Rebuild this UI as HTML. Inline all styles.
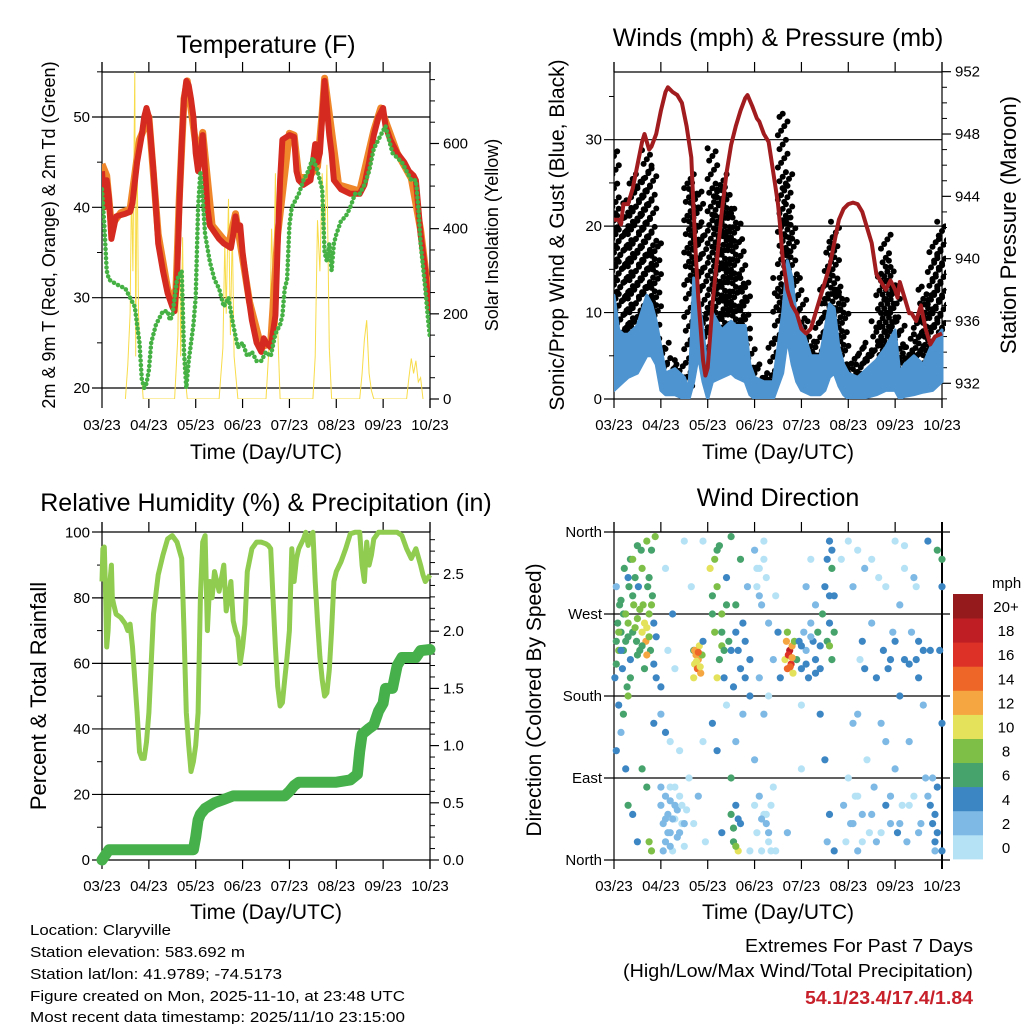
<!DOCTYPE html>
<html><head><meta charset="utf-8"><style>
html,body{margin:0;padding:0;background:#fff;}
svg{display:block;font-family:"Liberation Sans",sans-serif;}
</style></head><body>
<svg id="chart" width="1024" height="1024" viewBox="0 0 1024 1024" xmlns="http://www.w3.org/2000/svg">
<rect width="1024" height="1024" fill="#fff"/>
<text x="266" y="53" font-size="25" text-anchor="middle">Temperature (F)</text>
<text x="778" y="46" font-size="25" text-anchor="middle">Winds (mph) &amp; Pressure (mb)</text>
<text x="266" y="511" font-size="25" text-anchor="middle">Relative Humidity (%) &amp; Precipitation (in)</text>
<text x="778" y="506" font-size="25" text-anchor="middle">Wind Direction</text>
<text x="266" y="459" font-size="21" text-anchor="middle">Time (Day/UTC)</text>
<text x="778" y="459" font-size="21" text-anchor="middle">Time (Day/UTC)</text>
<text x="266" y="919" font-size="21" text-anchor="middle">Time (Day/UTC)</text>
<text x="778" y="919" font-size="21" text-anchor="middle">Time (Day/UTC)</text>
<text transform="translate(55,235) rotate(-90)" font-size="18" text-anchor="middle">2m &amp; 9m T (Red, Orange) &amp; 2m Td (Green)</text>
<text transform="translate(498,235) rotate(-90)" font-size="18" text-anchor="middle">Solar Insolation (Yellow)</text>
<text transform="translate(564,235) rotate(-90)" font-size="21" text-anchor="middle">Sonic/Prop Wind &amp; Gust (Blue, Black)</text>
<text transform="translate(1016,225) rotate(-90)" font-size="22" text-anchor="middle">Station Pressure (Maroon)</text>
<text transform="translate(46,696) rotate(-90)" font-size="22" text-anchor="middle">Percent &amp; Total Rainfall</text>
<text transform="translate(541,700) rotate(-90)" font-size="21" text-anchor="middle">Direction (Colored By Speed)</text>
<g font-size="15">
<text x="30" y="935" textLength="141" lengthAdjust="spacingAndGlyphs">Location: Claryville</text>
<text x="30" y="957" textLength="215" lengthAdjust="spacingAndGlyphs">Station elevation: 583.692 m</text>
<text x="30" y="979" textLength="252" lengthAdjust="spacingAndGlyphs">Station lat/lon: 41.9789; -74.5173</text>
<text x="30" y="1001" textLength="375" lengthAdjust="spacingAndGlyphs">Figure created on Mon, 2025-11-10, at 23:48 UTC</text>
<text x="30" y="1022" textLength="375" lengthAdjust="spacingAndGlyphs">Most recent data timestamp: 2025/11/10 23:15:00</text>
</g>
<text x="973" y="952" font-size="18" text-anchor="end" textLength="228" lengthAdjust="spacingAndGlyphs">Extremes For Past 7 Days</text>
<text x="973" y="977" font-size="18" text-anchor="end" textLength="350" lengthAdjust="spacingAndGlyphs">(High/Low/Max Wind/Total Precipitation)</text>
<text x="973" y="1004" font-size="18" font-weight="bold" fill="#c8202a" text-anchor="end" textLength="168" lengthAdjust="spacingAndGlyphs">54.1/23.4/17.4/1.84</text>
</svg>
<script>
const xTickLabels = ["03/23","04/23","05/23","06/23","07/23","08/23","09/23","10/23"];
const tempT = [0,0.05,0.1,0.15,0.2,0.3,0.5,0.6,0.65,0.75,0.85,0.9,0.95,1.0,1.05,1.1,1.15,1.2,1.3,1.4,1.5,1.55,1.6,1.65,1.7,1.75,1.8,1.85,1.9,1.95,2.0,2.05,2.1,2.15,2.2,2.25,2.3,2.5,2.6,2.75,2.8,2.85,2.9,2.95,3.0,3.1,3.2,3.3,3.4,3.45,3.5,3.6,3.7,3.75,3.8,3.85,4.0,4.1,4.15,4.2,4.3,4.45,4.5,4.55,4.6,4.65,4.7,4.75,4.8,4.85,4.9,4.95,5.1,5.3,5.5,5.6,5.7,5.8,5.9,5.95,6.0,6.05,6.15,6.3,6.45,6.55,6.65,6.7,6.75,6.8,6.9,6.95,7.0];
const tempV = [44,40,43,41,36.5,39,39.3,39.5,40.5,45,48,50,51,50,47,44,40,36,33,30.5,29,28.5,32,40,47,52,54,53.5,52,50,46,44,46,48,44,40,38,36.5,36,35.5,37,39,37.5,38,35,31,27.5,25,24,25.5,25,24.5,28,36,43,47.5,48,47.8,44,43,42.5,43,45,47,45,46,50,54,51,48,46,43,42,41.5,41.5,42.5,45,48,50,50.5,51,49,47.5,46,45,44,43.5,43,40,37,33,30,28.5];
const orangeT = [0,0.1,0.2,0.4,0.6,0.8,1.0,1.2,1.4,1.5,1.58,1.65,1.75,1.82,2.05,2.15,2.35,2.7,2.85,3.15,3.4,3.6,3.75,4.0,4.1,4.2,4.4,4.6,4.7,4.75,5.05,5.5,5.8,5.95,6.3,6.6,6.8,7.0];
const orangeV = [44.8,43.5,38,39.4,39.8,47.5,50,37,31,29.5,31,41,52,54,45,48.3,38,35.8,39.3,29.5,24.5,25,37,48.2,48,43.3,43.3,44.5,50.5,54.3,42.5,41.8,48.5,51,46,43.2,37.5,29];
const dewT = [0,0.05,0.1,0.15,0.3,0.5,0.6,0.7,0.75,0.8,0.85,0.9,0.95,1.0,1.05,1.15,1.3,1.4,1.45,1.5,1.6,1.7,1.75,1.8,1.85,1.95,2.0,2.05,2.1,2.15,2.2,2.3,2.4,2.5,2.6,2.7,2.8,2.9,3.0,3.1,3.2,3.3,3.4,3.5,3.6,3.7,3.8,3.85,3.9,3.95,4.0,4.05,4.2,4.3,4.4,4.5,4.6,4.7,4.75,4.8,4.85,4.9,4.95,5.0,5.1,5.2,5.3,5.4,5.5,5.6,5.7,5.8,5.9,6.0,6.05,6.1,6.2,6.3,6.4,6.5,6.6,6.7,6.75,6.8,6.9,6.95,7.0];
const dewV = [42,38,33,32,31.5,31,30,29,27,25,21,20,20.5,22,25,27,28.5,28.5,27.5,28,32,33,24,20,23,27,30,40,44,41,37,34,32,31,29,30,27,24.5,25,23.5,24,23,23,24,23.5,26,27,28,31,32,38,40,41.5,43,44,45.5,44,42,35,34,36,33,36,37,38.5,39,40,41.5,41.5,42.5,44,46.5,47.5,48.5,49,48,46,45.5,45,44,43,43,40,36,31,28,25.5];
const solarT = [0.5,0.55,0.6,0.63,0.66,0.7,0.72,0.75,0.78,0.82,0.88,1.55,1.62,1.65,1.68,1.72,1.75,1.82,2.5,2.58,2.62,2.65,2.7,2.74,2.78,2.82,2.9,3.5,3.58,3.62,3.66,3.7,3.74,3.8,4.5,4.55,4.6,4.65,4.7,4.75,4.8,4.85,4.9,5.5,5.55,5.6,5.65,5.7,5.75,5.8,6.5,6.55,6.6,6.65,6.7,6.75,6.8,6.85];
const solarV = [0,80,200,500,300,780,100,600,200,100,0,0,150,450,100,380,80,0,0,120,370,200,470,150,400,100,0,0,150,400,250,530,200,0,0,100,420,300,530,380,550,120,0,0,60,140,185,60,20,0,0,50,95,60,90,40,50,0];
const presT = [0,0.1,0.15,0.2,0.3,0.4,0.5,0.6,0.65,0.7,0.75,0.8,0.9,1.0,1.1,1.15,1.25,1.35,1.45,1.55,1.65,1.7,1.75,1.8,1.85,1.9,1.95,2.0,2.05,2.1,2.2,2.3,2.4,2.5,2.6,2.7,2.8,2.85,2.95,3.05,3.1,3.2,3.3,3.35,3.45,3.5,3.55,3.6,3.7,3.8,3.9,4.0,4.1,4.2,4.3,4.4,4.5,4.6,4.7,4.8,4.9,5.0,5.1,5.2,5.3,5.4,5.5,5.6,5.7,5.8,5.9,6.0,6.05,6.1,6.2,6.3,6.35,6.45,6.55,6.65,6.75,6.85,7.0];
const presV = [942.5,942.5,942.2,943.5,943.5,944.5,946,947.5,948,947.5,947,947.2,948,949.5,950.7,951,950.7,950.5,950,948.5,946.5,943,940,937.5,935.5,933.5,932.5,933,935,937,940,943,945.5,947.3,948.5,949.5,950.3,950.5,949.8,949,948.8,948,947.5,946.5,944.5,943.5,942,940,938,937,936.5,935.5,935.2,935.5,936.5,937.5,938.5,939.5,941,942.5,943.2,943.5,943.6,943.5,943,942,941,939,938.5,938,938.6,938,937.5,938.5,937.5,936.5,936.5,936,937,935.5,934.5,935,935.2];
const sonicT = [0,0.1,0.2,0.3,0.5,0.7,0.8,0.9,1.0,1.1,1.3,1.5,1.6,1.7,1.8,1.9,2.0,2.1,2.3,2.5,2.6,2.8,2.9,3.0,3.2,3.4,3.5,3.6,3.7,3.8,3.9,4.0,4.2,4.4,4.5,4.6,4.7,4.8,4.9,5.0,5.2,5.4,5.6,5.8,5.9,6.0,6.1,6.2,6.4,6.6,6.8,7.0];
const sonicHi = [12,8,7.5,7.5,8.5,12,11,9,6,3,3.5,2.5,1,14,12,8,3,10,8,9,8.5,8.5,4,2.5,2,2,6,10,16,14,9,8.5,5,5,8,11,10.5,6,4,3,2.5,3.5,4.5,6,7,8,3,4,5,4,6.5,8];
const sonicLo = [1,1.5,2,2.5,3,5,5,4,1,0.5,0.5,0,0,2,5,2,0,2,2.5,3,2.5,2,0.5,0,0,0,1.5,3,7,4,2,1,0.5,0.5,1,2.5,3,1.5,0.5,0,0,0.2,0.5,1,1,1,0,0.3,0.5,0.8,1,2];
const gustV = [29,22,20,23,26,24,25.5,28.8,27,18,7,6.5,4,4,4.5,2.5,26,25,24,20,10,29,24,26,24.5,22,21,18.5,14,7,4,3.5,3,2.5,7,14,33,26,21,14,12,9,7,6,10,13,18,20.5,13,12,3,5,4,6.5,6,5.5,9,14.5,19,16,13,9,6,6,7.5,10,13,12,17,18.5,20.5];
const rhT = [0,0.02,0.05,0.08,0.1,0.13,0.17,0.2,0.22,0.25,0.3,0.4,0.5,0.55,0.6,0.65,0.7,0.75,0.8,0.85,0.9,0.95,1.0,1.05,1.1,1.2,1.3,1.4,1.5,1.6,1.7,1.75,1.8,1.85,1.9,1.95,2.0,2.05,2.1,2.15,2.2,2.25,2.3,2.35,2.4,2.5,2.6,2.65,2.7,2.75,2.8,2.85,2.9,2.95,3.0,3.05,3.1,3.2,3.3,3.4,3.5,3.55,3.6,3.65,3.7,3.75,3.8,3.85,3.9,3.95,4.0,4.05,4.1,4.15,4.2,4.3,4.35,4.4,4.45,4.5,4.55,4.6,4.65,4.7,4.75,4.8,4.85,4.9,4.95,5.0,5.1,5.2,5.3,5.4,5.5,5.55,5.6,5.65,5.7,5.75,5.8,5.9,6.0,6.2,6.3,6.4,6.5,6.6,6.7,6.8,6.85,6.9,7.0];
const rhV = [85,95,95.5,80,65,70,85,90,80,78,75,74,72,70,72,65,55,45,33,31,31,36,45,60,75,87,93,98,99,97,92,70,45,35,27,30,35,45,80,97,99,70,85,80,88,82,90,76,80,85,73,70,68,60,65,72,88,95,97,97,96.5,96,95,80,65,53,47,48,55,62,70,95,85,92,95,98,100,96,99,100,85,73,62,55,50,51,58,70,85,88,91,95,99.5,100,100,90,85,97,90,93,98,100,100,100,100,99,95,92,95,90,87,85,87];
const rainT = [0,0.05,0.15,1.95,2.0,2.05,2.1,2.2,2.4,2.6,2.8,3.9,4.0,4.1,4.2,5.0,5.3,5.45,5.5,5.55,5.7,5.8,5.9,6.0,6.05,6.2,6.3,6.4,6.7,6.8,7.0];
const rainV = [0,0.03,0.09,0.09,0.2,0.35,0.4,0.45,0.5,0.53,0.56,0.56,0.6,0.65,0.68,0.68,0.7,0.75,0.95,1.1,1.15,1.18,1.3,1.37,1.5,1.5,1.7,1.77,1.77,1.83,1.84];
const dirT = [0.02,0.05,0.05,0.08,0.1,0.12,0.15,0.18,0.2,0.22,0.25,0.28,0.3,0.32,0.35,0.35,0.4,0.42,0.45,0.48,0.5,0.52,0.55,0.58,0.6,0.62,0.65,0.68,0.7,0.72,0.75,0.78,0.8,0.82,0.85,0.88,0.9,0.05,0.1,0.15,0.25,0.3,0.4,0.5,0.6,0.7,0.75,0.8,0.85,0.3,0.2,
1.0,1.05,1.1,1.1,1.15,1.2,1.2,1.25,1.3,1.3,1.35,1.4,1.45,1.5,1.55,1.0,1.1,1.2,1.3,1.4,1.1,1.25,1.5,1.0,1.15,
1.7,1.72,1.75,1.78,1.8,1.82,1.85,1.88,1.9,1.7,1.6,1.7,1.8,1.9,1.95,1.65,1.9,
2.05,2.1,2.15,2.2,2.25,2.3,2.35,2.4,2.45,2.5,2.55,2.6,2.65,2.7,2.75,2.8,2.85,2.9,2.2,2.3,2.1,2.2,2.3,2.5,2.55,2.6,2.65,2.7,2.5,2.75,2.4,2.9,2.9,2.6,
3.0,3.05,3.1,3.15,3.2,3.25,3.3,3.0,3.05,3.1,3.15,3.2,3.25,3.3,3.35,3.4,3.45,3.1,3.2,3.3,3.0,3.4,3.45,3.5,3.55,
3.65,3.68,3.7,3.73,3.75,3.78,3.8,3.82,3.85,3.7,3.9,3.95,4.0,4.05,4.1,4.15,4.2,4.25,4.3,4.35,4.4,4.45,4.5,4.55,4.6,4.65,4.7,4.55,4.6,4.65,4.1,4.2,4.3,4.0,4.4,4.5,4.55,4.6,4.7,3.7,4.0,
4.85,4.9,4.95,5.0,5.0,5.05,5.1,5.1,5.15,5.2,5.2,5.25,5.3,5.35,5.4,5.45,5.5,5.55,5.6,5.6,5.65,5.7,5.75,5.8,5.85,5.9,5.95,6.0,6.0,6.05,6.1,6.1,6.15,6.2,6.2,6.25,6.3,6.35,6.4,6.45,6.5,6.55,6.6,6.65,6.7,6.75,6.8,6.85,6.9,6.9,6.95,7.0,7.0,6.85,5.3,5.35,5.9,6.3,6.5,5.2,5.8,6.6,
0.05,0.1,0.15,0.2,0.25,0.3,0.35,0.4,0.45,0.5,0.55,0.6,0.65,0.7,0.75,0.8,0.85,0.4,0.5,0.6,0.7,0.75,0.3,0.15,0.9,
1.05,1.1,1.15,1.2,1.25,1.3,1.35,1.4,1.45,1.5,1.0,1.2,1.72,1.76,1.8,1.84,
2.1,2.2,2.3,2.4,2.5,2.6,2.7,2.8,2.15,2.25,2.35,2.55,2.6,2.65,3.05,3.1,3.2,3.25,3.3,3.35,3.15,
3.72,3.76,3.8,4.0,4.1,4.2,4.3,4.4,4.6,4.65,4.7,4.6,
5.1,5.2,5.3,5.5,5.7,5.9,6.1,6.3,6.5,6.7,6.8,6.85,6.9,5.5,5.8,6.2,6.4,6.0,6.45,6.75,7.0,7.0];
const dirDeg = [200,240,300,260,230,280,250,210,270,320,240,190,260,300,330,220,250,280,310,240,265,300,230,340,250,280,210,240,255,300,270,230,340,290,260,355,200,120,170,140,100,60,50,20,100,80,20,10,150,180,160,
60,40,70,20,50,80,30,10,60,45,25,70,40,15,55,160,140,130,210,120,320,270,350,190,230,
230,215,225,210,220,235,205,225,240,200,90,40,70,130,20,300,350,
320,290,250,340,220,270,200,310,240,355,190,280,230,330,260,200,300,220,200,235,150,120,30,50,20,60,10,40,90,160,170,10,180,130,
340,300,320,280,350,310,260,60,30,70,10,50,40,20,60,80,10,200,160,180,110,220,290,250,200,
220,240,210,225,230,215,235,205,240,250,220,240,210,250,230,200,260,240,220,250,210,270,300,330,350,320,290,240,260,220,300,330,280,170,160,110,20,50,10,30,100,
330,60,20,350,90,40,300,150,70,340,10,220,50,320,110,30,260,80,200,20,310,150,230,60,210,40,250,350,100,30,280,180,60,320,220,20,130,250,70,300,200,40,230,90,350,60,40,20,340,80,230,300,150,10,240,210,220,215,240,160,130,170,
215,250,285,230,270,245,200,290,255,225,275,235,260,225,245,280,215,330,345,320,350,310,310,230,245,
10,45,30,65,45,80,55,30,60,40,80,15,230,218,228,212,
270,300,250,280,230,250,210,240,330,345,230,35,15,45,320,290,330,50,30,10,45,
225,212,222,235,215,245,205,235,290,340,250,235,
40,70,20,50,30,70,40,60,30,70,90,50,30,330,300,345,310,240,220,230,330,10];
const dirSpd = [4,6,2,6,8,6,6,4,6,6,6,6,8,6,6,4,6,8,6,6,8,4,6,6,10,8,6,12,10,6,8,6,6,6,4,8,4,4,4,2,4,6,4,4,6,6,8,8,4,8,6,
2,2,2,2,2,0,2,0,2,0,2,0,0,0,0,2,4,0,0,0,0,4,0,4,0,
6,10,12,14,12,10,12,8,4,10,0,0,2,0,0,0,0,
10,6,8,6,6,8,4,4,6,6,4,6,4,6,4,4,2,4,10,8,4,4,4,6,6,4,10,4,6,2,0,0,4,2,
2,0,0,2,0,0,2,0,0,2,0,0,2,0,0,0,0,2,2,0,2,2,0,4,4,
10,12,14,16,18,16,12,10,8,8,6,4,4,2,2,4,2,4,4,6,4,6,4,4,4,6,4,6,4,6,2,0,2,0,4,4,2,4,4,2,0,
0,2,0,0,0,2,2,2,0,0,2,0,2,2,0,0,2,2,4,2,0,2,4,4,4,2,2,0,2,4,2,4,0,0,4,2,2,2,0,0,4,2,4,2,4,4,4,4,6,4,4,4,4,2,4,4,4,4,4,2,2,2,
6,8,6,6,8,6,6,6,8,6,8,6,10,12,8,8,4,8,6,8,8,6,4,4,4,
2,2,2,2,2,0,2,2,0,2,2,2,12,10,14,10,
6,8,6,6,4,4,4,4,8,6,6,6,8,4,0,2,0,0,2,0,2,
16,14,12,4,4,2,4,4,4,4,6,8,
2,0,0,2,0,2,2,0,2,2,2,4,4,0,0,0,2,4,4,4,6,4];
const speedBins = ["0","2","4","6","8","10","12","14","16","18","20+"];
const speedColors = ["#b6e2f6","#7db9e4","#3d86c4","#46a36b","#7dbf47","#e4e25a","#f6a640","#ef6728","#dd3127","#bf1e24","#951a1c"];

const NS = "http://www.w3.org/2000/svg";
const svg = document.getElementById('chart');
function el(tag, attrs, parent) {
  const e = document.createElementNS(NS, tag);
  for (const k in attrs) e.setAttribute(k, attrs[k]);
  (parent || svg).appendChild(e);
  return e;
}
function interp(ts, vs, t) {
  if (t <= ts[0]) return vs[0];
  for (let i = 1; i < ts.length; i++) if (t <= ts[i]) { const f = (t - ts[i-1]) / (ts[i] - ts[i-1]); return vs[i-1] + f * (vs[i] - vs[i-1]); }
  return vs[vs.length - 1];
}
function makeX(x0, x1) { return t => x0 + t * (x1 - x0) / 7; }
function makeY(v0, y0, v1, y1) { return v => y0 + (v - v0) * (y1 - y0) / (v1 - v0); }
function pts(ts, vs, xf, yf) { return ts.map((t, i) => xf(t).toFixed(1) + ',' + yf(vs[i]).toFixed(1)).join(' '); }

function frame(name, x0, x1, top, bot, gridYs, gx0, gx1, rightAxis) {
  const g = el('g', {});
  
  
  gridYs.forEach(y => {
    const l = el('line', {x1: gx0, x2: gx1, y1: y, y2: y, stroke: '#000', 'stroke-width': 1.2}, g);
    
    
  });
  el('line', {x1: x0, x2: x1, y1: top, y2: top, stroke: '#000', 'stroke-width': 1.2}, g);
  el('line', {x1: x0, x2: x0, y1: top - 10, y2: bot, stroke: '#000', 'stroke-width': 1.2}, g);
  el('line', {x1: x1, x2: x1, y1: top - 10, y2: bot + 9, stroke: '#000', 'stroke-width': rightAxis ? 1.2 : 2}, g);
  const xf = makeX(x0, x1);
  xTickLabels.forEach((lab, i) => {
    const x = xf(i);
    el('line', {x1: x, x2: x, y1: top - 10, y2: top, stroke: '#000', 'stroke-width': 1.2}, g);
    el('line', {x1: x, x2: x, y1: bot, y2: bot + 9, stroke: '#000', 'stroke-width': 1.2}, g);
    const tx = el('text', {x: x, y: bot + 31, 'font-size': 15, 'text-anchor': 'middle'}, g);
    tx.textContent = lab;
    
    
  });
  return g;
}
function yTicks(g, x, vals, yf, labels, side, minor) {
  vals.forEach((v, i) => {
    const y = yf(v);
    if (side === 'right') el('line', {x1: x, x2: x + 9, y1: y, y2: y, stroke: '#000', 'stroke-width': 1.2}, g);
    if (labels) {
      const t = el('text', {x: side === 'left' ? x - 12 : x + 13, y: y + 5, 'font-size': 15, 'text-anchor': side === 'left' ? 'end' : 'start'}, g);
      t.textContent = labels[i];
      
      
    }
  });
  (minor || []).forEach(v => {
    const y = yf(v);
    if (side === 'left') el('line', {x1: x - 5, x2: x, y1: y, y2: y, stroke: '#000', 'stroke-width': 1}, g);
    else el('line', {x1: x, x2: x + 5, y1: y, y2: y, stroke: '#000', 'stroke-width': 1}, g);
  });
}

(function(){
  const x0 = 102, x1 = 430, top = 72, bot = 399;
  const xf = makeX(x0, x1), yT = makeY(20, 388, 50, 117), yS = makeY(0, 399, 600, 143.5);
  const g = frame('temperature', x0, x1, top, bot, [20,30,40,50].map(yT), 92, 430, true);
  yTicks(g, x0, [20,30,40,50], yT, ['20','30','40','50'], 'left', [25,35,45,55]);
  yTicks(g, x1, [0,200,400,600], yS, ['0','200','400','600'], 'right', [50,100,150,250,300,350,450,500,550,650,700,750]);
  el('clipPath', {id: 'c1'}).appendChild(el('rect', {x: x0, y: top, width: x1 - x0, height: bot - top}));
  const d = el('g', {'clip-path': 'url(#c1)'});
  const s = el('polyline', {points: pts(solarT, solarV, xf, yS), fill: 'none', stroke: '#f8dc4a', 'stroke-width': 1}, d);
  
  
  const o = el('polyline', {points: pts(orangeT, orangeV, xf, yT), fill: 'none', stroke: '#f0862a', 'stroke-width': 7, 'stroke-linejoin': 'round'}, d);
  
  
  const r = el('polyline', {points: pts(tempT, tempV, xf, yT), fill: 'none', stroke: '#d42a20', 'stroke-width': 6, 'stroke-linejoin': 'round'}, d);
  
  
  const gr = el('polyline', {points: pts(dewT, dewV, xf, yT), fill: 'none', stroke: '#45b043', 'stroke-width': 4.5, 'stroke-dasharray': '0.1 4.5', 'stroke-linecap': 'round'}, d);
  
  
})();

(function(){
  const x0 = 614, x1 = 942, top = 72, bot = 399;
  const xf = makeX(x0, x1), yW = makeY(0, 399, 30, 139.7), yP = makeY(932, 383.3, 952, 71.7);
  const g = frame('winds', x0, x1, top, bot, [0,10,20,30].map(yW), 604, 942, true);
  yTicks(g, x0, [0,10,20,30], yW, ['0','10','20','30'], 'left', [5,15,25,35]);
  yTicks(g, x1, [932,936,940,944,948,952], yP, ['932','936','940','944','948','952'], 'right', [931,933,934,935,937,938,939,941,942,943,945,946,947,949,950,951]);
  el('clipPath', {id: 'c2'}).appendChild(el('rect', {x: x0, y: top - 20, width: x1 - x0 + 4, height: bot - top + 20}));
  const d = el('g', {'clip-path': 'url(#c2)'});
  const gg = el('g', {}, d);
  
  
  gustV.forEach((v, i) => {
    const t = i * 0.1;
    const yTop = yW(v), yBase = yW(interp(sonicT, sonicHi, t)) + 6;
    let k = 0;
    for (let y = yTop; y <= yBase; y += 4.6) {
      const off = (((k * 5 + i * 3) % 7) - 3) * 1.6;
      const dy = k === 0 ? 0 : (((k * 3 + i) % 3) - 1) * 1.5;
      const c = el('circle', {cx: (xf(t) + off).toFixed(1), cy: (y + dy).toFixed(1), r: 3, fill: '#000'}, gg);
      
      
      k++;
    }
  });
  const band = sonicT.map((t, i) => xf(t).toFixed(1) + ',' + yW(sonicHi[i]).toFixed(1)).concat(sonicT.slice().reverse().map((t, j) => { const i = sonicT.length - 1 - j; return xf(t).toFixed(1) + ',' + yW(sonicLo[i]).toFixed(1); })).join(' ');
  const b = el('polygon', {points: band, fill: '#4e94d0', stroke: '#4e94d0', 'stroke-width': 3, 'stroke-linejoin': 'round'}, d);
  
  
  const p = el('polyline', {points: pts(presT, presV, xf, yP), fill: 'none', stroke: '#a11c1e', 'stroke-width': 4, 'stroke-linejoin': 'round'}, d);
  
  
})();

(function(){
  const x0 = 102, x1 = 430, top = 532, bot = 860;
  const xf = makeX(x0, x1), yR = makeY(0, 860, 100, 532.3), yI = makeY(0, 860, 2.5, 574);
  const g = frame('humidity', x0, x1, top, bot, [20,40,60,80].map(yR), 92, 430, true);
  yTicks(g, x0, [0,20,40,60,80,100], yR, ['0','20','40','60','80','100'], 'left', [10,30,50,70,90]);
  yTicks(g, x1, [0,0.5,1,1.5,2,2.5], yI, ['0.0','0.5','1.0','1.5','2.0','2.5'], 'right', [0.1,0.2,0.3,0.4,0.6,0.7,0.8,0.9,1.1,1.2,1.3,1.4,1.6,1.7,1.8,1.9,2.1,2.2,2.3,2.4,2.6,2.7,2.8]);
  el('line', {x1: 92, x2: 102, y1: 532, y2: 532, stroke: '#000', 'stroke-width': 1.2}, g);
  el('line', {x1: 92, x2: 102, y1: 860, y2: 860, stroke: '#000', 'stroke-width': 1.2}, g);
  el('line', {x1: 102, x2: 430, y1: 860, y2: 860, stroke: '#000', 'stroke-width': 1.2}, g);
  const rh = el('polyline', {points: pts(rhT, rhV, xf, yR), fill: 'none', stroke: '#8fcc50', 'stroke-width': 5, 'stroke-linejoin': 'round'}, svg);
  
  
  const rn = el('polyline', {points: pts(rainT, rainV, xf, yI), fill: 'none', stroke: '#46b04a', 'stroke-width': 11, 'stroke-linejoin': 'round', 'stroke-linecap': 'round'}, svg);
  
  
})();

(function(){
  const x0 = 614, x1 = 942, top = 532, bot = 860;
  const xf = makeX(x0, x1), yD = makeY(0, 860, 360, 532);
  const g = frame('direction', x0, x1, top, bot, [0,90,180,270,360].map(yD), 604, 950, false);
  yTicks(g, x0, [0,90,180,270,360], yD, ['North','East','South','West','North'], 'left', []);
  const dg = el('g', {});
  
  
  dirT.forEach((t, i) => {
    const bin = Math.min(10, Math.floor(dirSpd[i] / 2));
    const c = el('circle', {cx: xf(t).toFixed(1), cy: yD(dirDeg[i]).toFixed(1), r: 3.6, fill: speedColors[bin]}, dg);
    
    
  });
  const cb = el('g', {});
  
  
  const h = (859 - 594) / 11;
  speedColors.forEach((col, i) => {
    const y = 859 - (i + 1) * h;
    const r = el('rect', {x: 953, y: y.toFixed(1), width: 30, height: (h + 0.4).toFixed(1), fill: col}, cb);
    
    
    const t = el('text', {x: 1006, y: (y + h / 2 + 6).toFixed(1), 'font-size': 15, 'text-anchor': 'middle'}, cb);
    t.textContent = speedBins[i];
    
    
  });
  const u = el('text', {x: 992, y: 588, 'font-size': 15}, cb);
  u.textContent = 'mph';
  
  
})();
</script>
</body></html>
